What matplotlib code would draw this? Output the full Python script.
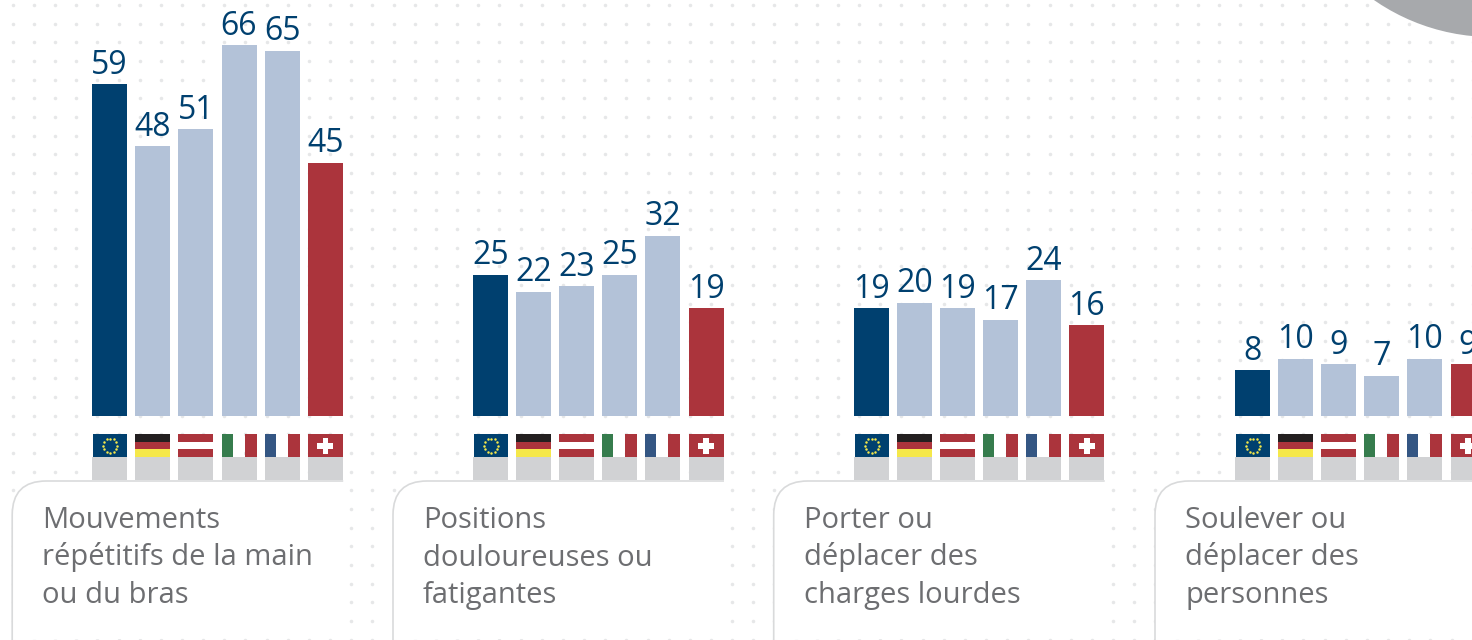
import numpy as np
import matplotlib
matplotlib.use("Agg")
import matplotlib.pyplot as plt
from matplotlib.patches import Rectangle, Circle, PathPatch
from matplotlib.path import Path

plt.rcParams['font.family'] = ['Open Sans', 'DejaVu Sans']

categories = [
    "Mouvements\nrépétitifs de la main\nou du bras",
    "Positions\ndouloureuses ou\nfatigantes",
    "Porter ou\ndéplacer des\ncharges lourdes",
    "Soulever ou\ndéplacer des\npersonnes",
]
countries = ["EU", "DE", "AT", "IT", "FR", "CH"]
repetitive = [59, 48, 51, 66, 65, 45]
painful = [25, 22, 23, 25, 32, 19]
heavy = [19, 20, 19, 17, 24, 16]
people = [8, 10, 9, 7, 10, 9]
series = [repetitive, painful, heavy, people]

NAVY = "#00406f"
LIGHT = "#b3c2d8"
RED = "#ab343c"
GREY = "#d1d2d4"
TEXT = "#6d6e71"
bar_colors = [NAVY, LIGHT, LIGHT, LIGHT, LIGHT, RED]

W, H = 1472, 640
group_left = [92.2, 473.0, 853.7, 1235.0]
bar_step = 43.1
bar_w = 35
zero_y = 414.8   # pixel row of value 0
foot_y = 416     # bars run a little past zero down to here
px_per_unit = 5.6
foot = (foot_y - zero_y) / px_per_unit

fig = plt.figure(figsize=(W / 100, H / 100), dpi=100)

# pixel axes for the decoration, y pointing down
bg = fig.add_axes([0, 0, 1, 1], zorder=1)
bg.set_xlim(0, W)
bg.set_ylim(H, 0)
bg.axis("off")

# value axes for the bars
ax = fig.add_axes([0, 0, 1, 1], zorder=2)
ax.set_xlim(0, W)
ax.set_ylim(-(H - zero_y) / px_per_unit, zero_y / px_per_unit)
ax.axis("off")

# dotted background
dx, dy = np.meshgrid(12.7 + 21.16 * np.arange(70), 5 + 18.67 * np.arange(35))
bg.scatter(dx.ravel(), dy.ravel(), s=6.5, color="#e6e7e8", linewidths=0, zorder=1)

# grey blob top right
bg.add_patch(Circle((1492, -170), 207, color="#a7a9ac", lw=0, zorder=2))


def rect(x, y, w, h, c, z=4):
    bg.add_patch(Rectangle((x, y), w, h, facecolor=c, edgecolor="none", lw=0, zorder=z))


def flag(code, x):
    y, h = 434, 23
    if code == "EU":
        rect(x + 1, y, bar_w - 1, h, NAVY)
        a = np.arange(12) * np.pi / 6
        bg.scatter(x + 18 + 7 * np.cos(a), y + 11.5 + 7 * np.sin(a), s=3.2,
                   color="#f5e84a", linewidths=0, zorder=5)
    elif code == "DE":
        rect(x, y, bar_w, 8, "#231f20")
        rect(x, y + 8, bar_w, 7, RED)
        rect(x, y + 15, bar_w, 8, "#f5e84a")
    elif code == "AT":
        rect(x, y, bar_w, 8, RED)
        rect(x, y + 8, bar_w, 7, "white")
        rect(x, y + 15, bar_w, 8, RED)
    elif code == "IT":
        rect(x, y, 11, h, "#367c4d")
        rect(x + 11, y, 11, h, "white")
        rect(x + 23, y, 12, h, RED)
    elif code == "FR":
        rect(x, y, 11, h, "#345683")
        rect(x + 11, y, 12, h, "white")
        rect(x + 23, y, 12, h, RED)
    elif code == "CH":
        rect(x, y, bar_w, h, RED)
        rect(x + 9.5, y + 9, 16, 5.5, "white", 5)
        rect(x + 14.8, y + 4, 5.5, 15.5, "white", 5)


def card(x, y, r, right):
    # white panel, open on the right and bottom
    panel = Path(
        [(x, 640), (x, y + r), (x, y), (x + r, y), (right, y), (right, 637), (x, 637)],
        [Path.MOVETO, Path.LINETO, Path.CURVE3, Path.CURVE3, Path.LINETO, Path.LINETO, Path.CLOSEPOLY],
    )
    bg.add_patch(PathPatch(panel, facecolor="white", edgecolor="none", lw=0, zorder=3))
    line = Path(
        [(x, 640), (x, y + r), (x, y), (x + r, y), (right, y)],
        [Path.MOVETO, Path.LINETO, Path.CURVE3, Path.CURVE3, Path.LINETO],
    )
    bg.add_patch(PathPatch(line, facecolor="none", edgecolor="#d9dadb", lw=1.2, zorder=3.5))


for i, values in enumerate(series):
    xs = [group_left[i] + k * bar_step for k in range(6)]
    ax.bar(xs, np.array(values) + foot, bottom=-foot, width=bar_w, align="edge",
           color=bar_colors, linewidth=0)
    for x, v in zip(xs, values):
        ax.annotate(str(v), (x + bar_w / 2, v), xytext=(0, 7.5), textcoords="offset points",
                    ha="center", va="baseline", fontsize=23, color=NAVY)
    card(group_left[i] - 80, 481, 34, group_left[i] + 251)
    for x, code in zip(xs, countries):
        rect(x, 457, bar_w, 23, GREY)
        flag(code, x)
    for j, line in enumerate(categories[i].split("\n")):
        bg.text(group_left[i] - 50, 528 + j * 37.5, line, fontsize=21, color=TEXT,
                ha="left", va="baseline", zorder=6)

fig.savefig("out.png", dpi=100)
